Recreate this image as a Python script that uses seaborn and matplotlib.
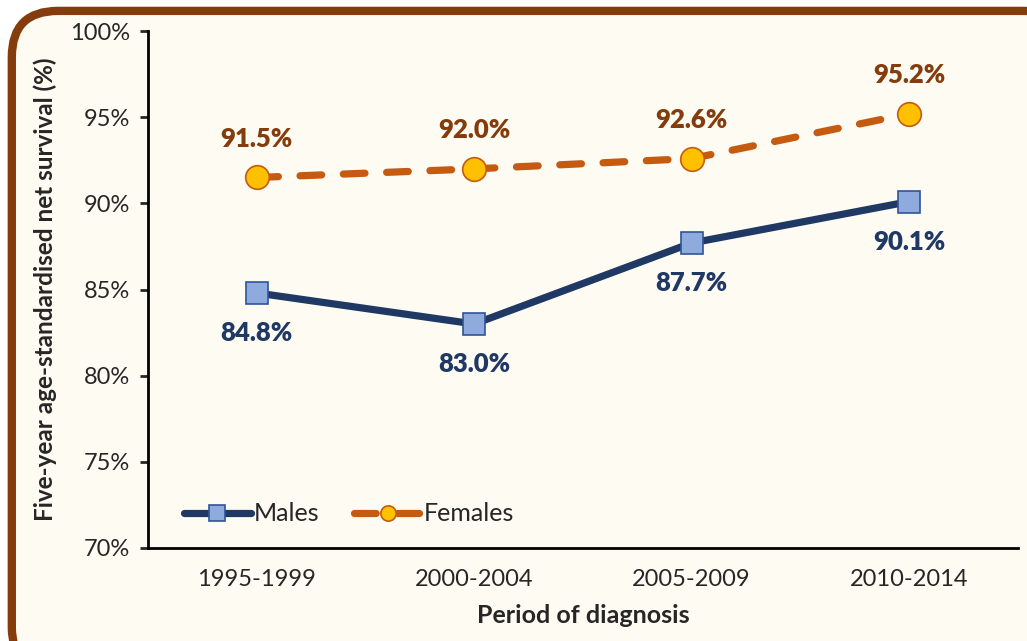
import matplotlib
matplotlib.use("Agg")
import matplotlib.pyplot as plt
import seaborn as sns
import pandas as pd
from matplotlib.patches import FancyBboxPatch
from matplotlib.ticker import FixedLocator

periods = ["1995-1999", "2000-2004", "2005-2009", "2010-2014"]
males = [84.8, 83.0, 87.7, 90.1]
females = [91.5, 92.0, 92.6, 95.2]
y_ticks = [70, 75, 80, 85, 90, 95, 100]

sns.set_style("white")
plt.rcParams["font.family"] = ["Lato", "DejaVu Sans"]

bg = "#FEFBF3"
fig = plt.figure(figsize=(10.27, 6.41), dpi=100)
fig.patch.set_facecolor("white")

# rounded chart border, runs off the right and bottom edges
box = FancyBboxPatch((0.0115, -0.05), 1.03, 1.033,
                     boxstyle="round,pad=0,rounding_size=0.045",
                     transform=fig.transFigure, facecolor=bg,
                     edgecolor="#843C0C", linewidth=6, mutation_aspect=1.6,
                     zorder=-5)
fig.patches.append(box)

ax = fig.add_axes([0.1441, 0.1451, 0.847, 0.8065])
ax.set_facecolor(bg)

df_m = pd.DataFrame({"period": periods, "value": males})
df_f = pd.DataFrame({"period": periods, "value": females})

sns.lineplot(data=df_m, x="period", y="value", ax=ax, sort=False,
             color="#203864", lw=5.2, marker="s", markersize=16,
             markerfacecolor="#8FAADC", markeredgecolor="#2F5597",
             markeredgewidth=1.2, solid_capstyle="round", label="Males")
sns.lineplot(data=df_f, x="period", y="value", ax=ax, sort=False,
             color="#C55A11", lw=5.2, marker="o", markersize=17,
             markerfacecolor="#FFC000", markeredgecolor="#C55A11",
             markeredgewidth=1.2, dashes=(3.0, 3.0),
             dash_capstyle="round", label="Females")

for i, v in enumerate(females):
    ax.annotate(f"{v:.1f}%", (i, v), xytext=(0, 28), textcoords="offset points",
                ha="center", va="center", fontsize=18.5, fontweight="heavy",
                color="#843C0C")
for i, v in enumerate(males):
    ax.annotate(f"{v:.1f}%", (i, v), xytext=(0, -29), textcoords="offset points",
                ha="center", va="center", fontsize=18.5, fontweight="heavy",
                color="#1F3864")

ax.set_xlim(-0.5, 3.5)
ax.set_ylim(70, 100)
ax.set_yticks(y_ticks)
ax.set_yticklabels([f"{t}%" for t in y_ticks], fontsize=17)
ax.set_xticks(range(len(periods)))
ax.set_xticklabels(periods, fontsize=17)
ax.xaxis.set_minor_locator(FixedLocator([-0.5, 0.5, 1.5, 2.5, 3.5]))
ax.tick_params(axis="x", which="major", length=0, pad=15)
ax.tick_params(axis="x", which="minor", length=6, width=2, direction="out")
ax.tick_params(axis="y", length=6, width=2, direction="out", left=True, pad=7)

for s in ["top", "right"]:
    ax.spines[s].set_visible(False)
for s in ["left", "bottom"]:
    ax.spines[s].set_color("black")
    ax.spines[s].set_linewidth(2)

ax.set_xlabel("Period of diagnosis", fontsize=18, fontweight="bold", labelpad=10)
ax.set_ylabel("Five-year age-standardised net survival (%)", fontsize=17.5,
              fontweight="bold", labelpad=9)

leg = ax.legend(loc="lower left", bbox_to_anchor=(0.015, 0.0), ncol=2,
                frameon=False, fontsize=18, handlelength=2.7,
                columnspacing=1.4, handletextpad=0.1)
for h in leg.legend_handles:
    h.set_markersize(11)

fig.savefig("out.png", dpi=100, facecolor="white")
